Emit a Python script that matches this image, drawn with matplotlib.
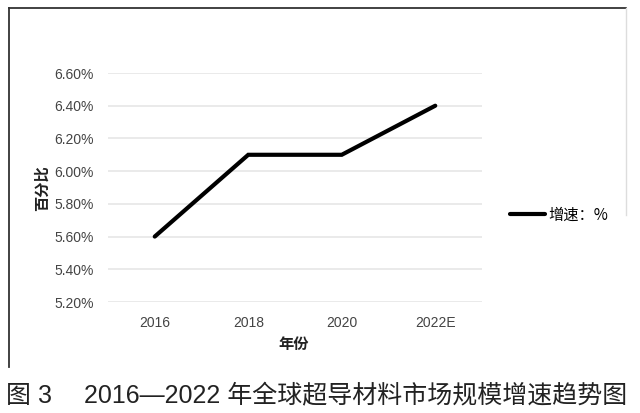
import matplotlib
matplotlib.use('Agg')
import matplotlib.pyplot as plt
from matplotlib.lines import Line2D

plt.rcParams['font.family'] = ['Noto Sans CJK SC', 'DejaVu Sans']

# data
years = ['2016', '2018', '2020', '2022E']
growth = [5.60, 6.10, 6.10, 6.40]   # %
y_ticks = [5.20, 5.40, 5.60, 5.80, 6.00, 6.20, 6.40, 6.60]
series_label = '增速：%'
caption = '图 3\u2003 2016—2022 年全球超导材料市场规模增速趋势图'

W, H = 640, 413
fig = plt.figure(figsize=(W / 100, H / 100), dpi=100)

# plot area in pixel coords: x 108..482, y 73..302
ax = fig.add_axes([108 / W, 1 - 302 / H, (482 - 108) / W, (302 - 73) / H])
x = list(range(len(years)))
ax.plot(x, growth, color='black', linewidth=3, solid_capstyle='round',
        solid_joinstyle='miter', label=series_label, zorder=3)

ax.set_xlim(-0.5, len(years) - 0.5)
ax.set_ylim(5.20, 6.60)
ax.set_yticks(y_ticks)
ax.set_yticklabels([f'{v:.2f}%' for v in y_ticks])
ax.set_xticks(x)
ax.set_xticklabels(years)
ax.grid(axis='y', color='#e6e6e6', linewidth=1.2)
ax.set_axisbelow(True)
for s in ax.spines.values():
    s.set_visible(False)
ax.tick_params(length=0, labelsize=10, labelcolor='#444444')
ax.tick_params(axis='y', pad=10)
ax.tick_params(axis='x', pad=10)
for lab in ax.get_xticklabels() + ax.get_yticklabels():
    lab.set_family(['Liberation Sans Narrow', 'Liberation Sans', 'DejaVu Sans'])

# axis titles
fig.text(42 / W, 1 - 188 / H, '百分比', rotation=90, ha='center', va='center',
         fontsize=11, fontweight='bold', color='#222222')
fig.text(294 / W, 1 - 344 / H, '年份', ha='center', va='center',
         fontsize=11, fontweight='bold', color='#222222')

# legend on the right
leg = ax.legend(loc='center left', bbox_to_anchor=(502 / W, 1 - 215 / H),
                bbox_transform=fig.transFigure, frameon=False, fontsize=11,
                handlelength=2.3, handletextpad=0.2, borderpad=0)

# chart frame (left, top, partial right)
frame_kw = dict(color='#333333', linewidth=1.3, transform=fig.transFigure)
fig.add_artist(Line2D([9 / W, 9 / W], [1 - 8 / H, 1 - 367 / H], **frame_kw))
fig.add_artist(Line2D([9 / W, 626 / W], [1 - 8 / H, 1 - 8 / H], **frame_kw))
fig.add_artist(Line2D([626 / W, 626 / W], [1 - 8 / H, 1 - 215 / H],
                      color='#dddddd', linewidth=1, transform=fig.transFigure))

# caption
fig.text(6 / W, 1 - 396 / H, caption, ha='left', va='center',
         fontsize=18, color='#222222',
         family=['Liberation Sans', 'Noto Sans CJK SC'])

fig.savefig('out.png', dpi=100)
